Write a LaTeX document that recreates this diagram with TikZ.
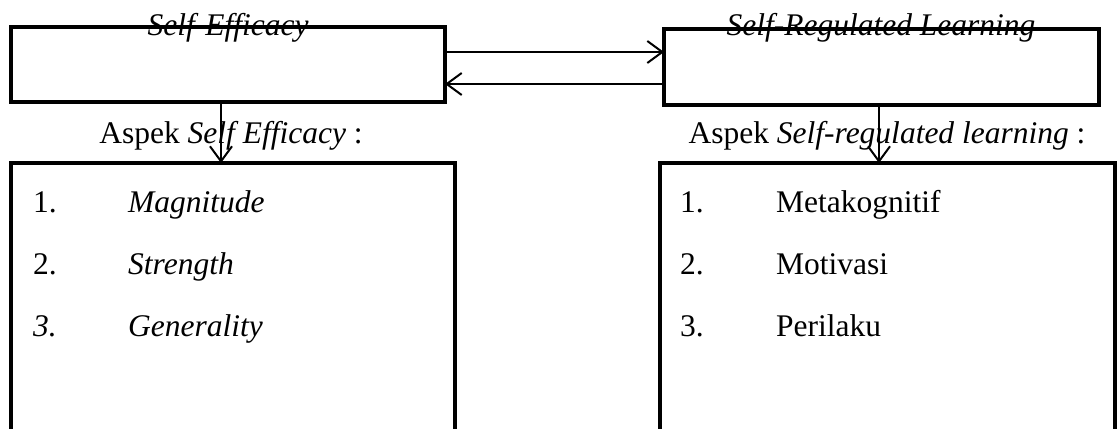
\documentclass[tikz,border=0pt]{standalone}
\usepackage{fontspec}
\setmainfont{Liberation Serif}
\usetikzlibrary{arrows.meta}
\tikzset{
  box/.style={draw, line width=4pt, rectangle, inner sep=0pt, outer sep=0pt},
  arr/.style={line width=2pt, -{Straight Barb[length=15pt, width=22pt, line width=2pt]}},
  txt/.style={inner sep=0pt, font=\fontsize{31.5}{36}\selectfont},
  itm/.style={txt, anchor=base west},
}
\begin{document}
\begin{tikzpicture}[x=1pt, y=-1pt]
\useasboundingbox (0,0) rectangle (1118,428);
\clip (0,0) rectangle (1118,428);
% boxes
\node[box, minimum width=434pt, minimum height=75pt] (se) at (228,64.5) {};
\node[box, minimum width=435pt, minimum height=76pt] (srl) at (881.5,67) {};
\node[box, minimum width=444pt, minimum height=269pt] (ase) at (233,297.5) {};
\node[box, minimum width=455pt, minimum height=269pt] (asrl) at (887.5,297.5) {};
% titles
\node[txt, anchor=base] (tse) at (228,36) {\textit{Self-Efficacy}};
\node[txt, anchor=base] (tsrl) at (881,36) {\textit{Self-Regulated Learning}};
% aspect labels
\node[txt, anchor=base] (lse) at (231,143) {Aspek \textit{Self Efficacy} :};
\node[txt, anchor=base] (lsrl) at (887,143) {Aspek \textit{Self-regulated learning} :};
% horizontal arrows
\draw[arr] (se.east |- 0,52) -- (srl.west |- 0,52);
\draw[arr] (srl.west |- 0,84) -- (se.east |- 0,84);
% vertical arrows
\draw[arr] (se.south -| 221,0) -- (ase.north -| 221,0);
\draw[arr] (srl.south -| 879,0) -- (asrl.north -| 879,0);
% left list
\node[itm] (n1) at (33,212) {1.};
\node[itm] (m1) at (128,212) {\textit{Magnitude}};
\node[itm] (n2) at (33,274) {2.};
\node[itm] (m2) at (128,274) {\textit{Strength}};
\node[itm] (n3) at (33,336) {\textit{3.}};
\node[itm] (m3) at (128,336) {\textit{Generality}};
% right list
\node[itm] (r1) at (680,212) {1.};
\node[itm] (s1) at (776,212) {Metakognitif};
\node[itm] (r2) at (680,274) {2.};
\node[itm] (s2) at (776,274) {Motivasi};
\node[itm] (r3) at (680,336) {3.};
\node[itm] (s3) at (776,336) {Perilaku};
\end{tikzpicture}
\end{document}
